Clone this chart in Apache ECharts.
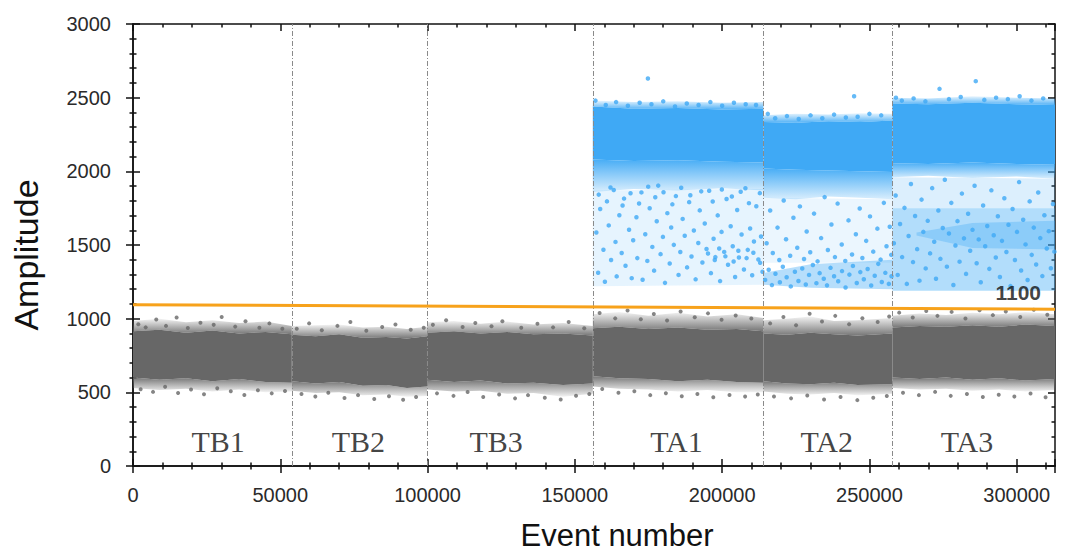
<!DOCTYPE html>
<html>
<head>
<meta charset="utf-8">
<title>Amplitude vs Event number</title>
<script src="https://cdn.jsdelivr.net/npm/echarts@6/dist/echarts.min.js"></script>
<style>
  html, body { margin: 0; padding: 0; background: #fff; }
  #chart { width: 1072px; height: 557px; }
</style>
</head>
<body>
<div id="chart"></div>
<script>
// segment borders (event number) and segment names
const segEdges = [53900, 99800, 156100, 214000, 257800];
const segNames = ['TB1', 'TB2', 'TB3', 'TA1', 'TA2', 'TA3'];
const segLabelX = [28900, 76500, 123300, 184500, 235500, 283100];
const segLabelY = 165;

// threshold line
const thresholdX = [0, 313000];
const thresholdY = [1095, 1064];

// grey cloud (negative droplets): solid core and outer edge of the scatter
const greyX = [
  0, 9000, 18000, 27000, 36000, 45000, 53900,
  53900, 62000, 70000, 78000, 86000, 93000, 99800,
  99800, 109000, 118000, 127000, 136000, 146000, 156100,
  156100, 165000, 175000, 185000, 195000, 205000, 214000,
  214000, 222000, 230000, 238000, 246000, 257800,
  257800, 267000, 276000, 285000, 294000, 303000, 313000
];
const greyHi = [
  915, 925, 905, 920, 900, 910, 895,
  890, 880, 895, 870, 875, 865, 880,
  905, 915, 900, 910, 895, 900, 885,
  935, 945, 930, 940, 925, 930, 915,
  900, 890, 905, 895, 885, 900,
  940, 950, 945, 955, 945, 960, 950
];
const greyLo = [
  600, 585, 595, 575, 590, 570, 565,
  575, 560, 570, 545, 550, 530, 540,
  585, 570, 580, 560, 565, 550, 560,
  610, 595, 590, 575, 585, 570, 565,
  575, 560, 555, 565, 550, 555,
  600, 590, 600, 585, 595, 580, 590
];
const greyOuterHi = [
  985, 1000, 975, 990, 970, 980, 950,
  950, 955, 960, 940, 945, 930, 945,
  975, 985, 965, 980, 960, 970, 950,
  1030, 1045, 1020, 1040, 1015, 1030, 1005,
  990, 1000, 1015, 985, 990, 1005,
  1020, 1035, 1025, 1040, 1030, 1045, 1030
];
const greyOuterLo = [
  530, 515, 525, 505, 520, 500, 505,
  510, 495, 500, 480, 485, 470, 475,
  520, 505, 510, 490, 495, 470, 490,
  540, 525, 520, 505, 515, 500, 500,
  505, 490, 485, 495, 480, 490,
  530, 520, 525, 510, 520, 505, 515
];

// isolated grey droplets outside the core
const greyPts = [
  [1800,962],[4300,941],[7900,994],[11200,951],[14800,1008],[18600,937],[22900,972],[27400,958],[30100,1011],[34700,946],[38200,983],[42900,939],[46300,968],[50700,932],
  [55600,931],[59800,968],[64100,922],[69400,951],[73800,978],[79200,918],[84600,944],[89100,961],[94300,925],[98700,939],
  [101800,958],[106300,989],[111900,944],[116200,971],[121700,949],[125400,982],[131800,938],[137300,966],[142600,941],[147900,977],[153200,935],
  [158400,1038],[163700,1002],[167900,1055],[172400,996],[176800,1031],[181300,987],[185900,1048],[190700,1009],[195200,1036],[199800,993],[204600,1022],[209900,1001],
  [216300,968],[220800,1012],[225100,956],[229700,1034],[233900,981],[238400,1019],[243100,962],[247600,1003],[252800,977],[256700,1015],
  [260100,1041],[264700,1008],[269300,1052],[273100,1019],[277900,1046],[282600,1001],[287400,1057],[291900,1024],[296300,1049],[301200,1012],[305800,1061],[310400,1027],
  [2600,521],[6800,503],[10900,538],[15300,496],[19700,519],[24100,487],[28600,527],[33200,508],[37800,482],[42400,514],[47100,493],[51600,509],
  [57200,488],[61900,471],[66300,497],[71800,462],[76400,481],[81900,455],[86900,474],[91700,449],[96100,468],
  [103200,493],[108800,476],[113600,502],[118900,468],[124300,486],[129700,459],[134100,481],[139800,463],[145200,452],[150400,477],[154900,488],
  [159300,522],[164800,497],[170200,508],[175600,481],[180900,494],[186300,473],[191600,489],[197000,466],[202500,482],[207800,471],[212100,485],
  [217600,472],[223400,459],[228900,478],[234600,452],[240200,468],[245900,447],[251300,463],[255900,475],
  [261400,497],[266800,481],[272300,503],[277600,476],[283100,489],[288500,468],[293900,484],[299200,471],[304700,492],[309800,466]
];

// blue cloud (positive droplets): solid core, upper edge and speckled lower edge
const blueX = [
  156100, 170000, 185000, 200000, 214000,
  214000, 225000, 236000, 247000, 257800,
  257800, 270000, 285000, 300000, 313000
];
const blueHi = [2440, 2425, 2430, 2420, 2425, 2335, 2330, 2340, 2335, 2345, 2460, 2455, 2465, 2455, 2450];
const blueLo = [2080, 2070, 2075, 2065, 2060, 2020, 2010, 2005, 2000, 1995, 2055, 2050, 2060, 2050, 2045];
const blueOuterHi = [2480, 2470, 2475, 2465, 2470, 2380, 2390, 2385, 2395, 2390, 2500, 2495, 2510, 2500, 2495];
const blueSpeckLo = [1860, 1880, 1870, 1885, 1870, 1820, 1810, 1830, 1820, 1810, 1960, 1970, 1955, 1965, 1950];

// thinner blue regions below the core
const ta1X = [156100, 214000];
const ta1Lo = [1220, 1230];
const ta1Hi = [1870, 1880];
const ta2X = [214000, 257800];
const ta2Lo = [1380, 1380];
const ta2Hi = [1820, 1810];
const ta2ClusterX = [214000, 230000, 257800];
const ta2ClusterLo = [1230, 1210, 1200];
const ta2ClusterHi = [1310, 1370, 1400];
const ta3X = [257800, 313000];
const ta3UpperLo = [1750, 1750];
const ta3UpperHi = [1960, 1950];
const ta3Lo = [1190, 1190];
const ta3Hi = [1750, 1750];
const ta3BandX = [266000, 285000, 313000];
const ta3BandLo = [1565, 1480, 1470];
const ta3BandHi = [1585, 1650, 1665];

// isolated blue droplets
const bluePts = [
  // TA1
  [157300,1585],[157900,1312],[158600,1744],[159700,1468],[160200,1251],[161500,1633],[162100,1890],[162300,1398],[163800,1521],[164200,1287],
  [165100,1702],[165900,1446],[166700,1815],[167200,1359],[168400,1604],[169300,1275],[169800,1532],[170900,1688],[171200,1411],[172600,1857],
  [173000,1264],[173900,1573],[174600,1392],[175400,1749],[176300,1487],[176900,1326],[177800,1661],[178300,1903],[179100,1438],[179900,1555],
  [180600,1243],[181400,1716],[182200,1374],[182700,1619],[183600,1501],[184300,1832],[185200,1297],[185800,1452],[186600,1677],[187300,1563],
  [188100,1348],[188800,1791],[189600,1422],[190400,1598],[191000,1267],[191900,1514],[192400,1735],[193300,1381],[194100,1646],[194700,1473],
  [195600,1868],[196200,1309],[197100,1542],[197700,1418],[198500,1701],[199300,1255],[199800,1589],[200700,1453],[201500,1812],[202000,1366],
  [202900,1627],[203600,1492],[204400,1283],[205100,1738],[205700,1415],[206600,1571],[207400,1334],[207900,1885],[208700,1467],[209500,1612],
  [210200,1295],[210800,1524],[211600,1763],[212300,1402],[213200,1558],[213700,1318],
  [158100,1842],[160900,1796],[163200,1873],[166200,1768],[168900,1851],[171800,1782],[174900,1896],[177300,1824],[180100,1858],[183100,1776],
  [186100,1889],[189200,1838],[192900,1864],[196800,1795],[199900,1877],[203300,1829],[206300,1861],[209100,1784],[212800,1852],
  [195200,1442],[197500,1398],[199000,1476],[201100,1423],[203900,1388],[205500,1461],[208300,1411],[210600,1447],[212900,1379],
  // TA2
  [215100,1512],[216300,1734],[217200,1446],[218800,1618],[219400,1398],[220900,1802],[221700,1539],[223100,1427],[224200,1685],[225500,1481],
  [226400,1762],[227800,1405],[228700,1592],[229900,1451],[231200,1713],[232400,1389],[233600,1547],[234800,1825],[235900,1466],[237100,1639],
  [238300,1418],[239200,1781],[240600,1503],[241800,1392],[242900,1667],[244100,1436],[245400,1573],[246700,1748],[247600,1412],[248900,1528],
  [250200,1694],[251300,1455],[252700,1611],[253800,1401],[254900,1786],[255800,1492],[256900,1624],[257400,1433],
  [214600,1263],[215800,1332],[216900,1228],[218100,1305],[219600,1247],[220600,1352],[221900,1281],[223300,1219],[224700,1318],[225900,1256],
  [227200,1340],[228400,1232],[229500,1297],[230800,1364],[232000,1241],[233100,1309],[234500,1271],[235600,1226],[236800,1345],[238000,1288],
  [239400,1254],[240700,1323],[241900,1212],[243200,1299],[244400,1358],[245700,1242],[246900,1316],[248100,1268],[249400,1337],[250600,1225],
  [251800,1291],[253000,1372],[254200,1249],[255400,1311],[256600,1236],[257500,1288],
  // TA3
  [258300,1512],[258900,1836],[259600,1297],[260400,1643],[261100,1418],[261900,1752],[262700,1236],[263300,1561],[264100,1914],[264800,1384],
  [265500,1697],[266200,1472],[267000,1258],[267700,1808],[268300,1589],[269100,1341],[269800,1664],[270600,1443],[271300,1886],[272000,1522],
  [272600,1271],[273400,1734],[274100,1406],[274900,1615],[275600,1943],[276300,1353],[277000,1578],[277800,1786],[278500,1229],[279200,1497],
  [279900,1662],[280600,1387],[281400,1849],[282100,1545],[282800,1304],[283500,1712],[284200,1461],[285000,1603],[285700,1902],[286400,1376],
  [287100,1538],[287800,1247],[288600,1768],[289300,1492],[290000,1629],[290700,1338],[291400,1871],[292200,1566],[292900,1415],[293600,1695],
  [294300,1283],[295000,1528],[295800,1817],[296500,1452],[297200,1637],[297900,1221],[298600,1744],[299400,1398],[300100,1589],[300800,1927],
  [301500,1327],[302200,1671],[303000,1504],[303700,1262],[304400,1796],[305100,1433],[305800,1618],[306600,1368],[307300,1856],[308000,1547],
  [308700,1289],[309400,1702],[310200,1476],[310900,1594],[311600,1342],[312300,1778],[312800,1455],
  // above the core
  [157000,2480],[160500,2450],[164000,2470],[168000,2445],[172000,2465],[174800,2630],[176000,2455],[180000,2475],[184000,2440],[188000,2460],
  [192000,2450],[196000,2470],[200000,2445],[204000,2465],[208000,2455],[211500,2450],
  [215500,2390],[218000,2360],[222000,2375],[226000,2355],[230000,2380],[234000,2360],[238000,2385],[242000,2365],[244800,2510],[246000,2370],
  [250000,2390],[254000,2380],
  [259000,2500],[261000,2480],[265000,2495],[269000,2475],[273800,2560],[277000,2490],[281000,2505],[286100,2612],[289000,2485],[293000,2500],
  [297000,2490],[301000,2510],[305000,2480],[309000,2495]
];

const GREY = '#676767';
const BLUE = '#3fa9f5';
const X_MAX = 313000;

function fade(rgb, topAlpha, bottomAlpha) {
  return new echarts.graphic.LinearGradient(0, 0, 0, 1, [
    { offset: 0, color: 'rgba(' + rgb + ',' + topAlpha + ')' },
    { offset: 1, color: 'rgba(' + rgb + ',' + bottomAlpha + ')' }
  ]);
}

// filled region between lo and hi; a repeated x starts a new piece
function band(xs, lo, hi, fill, opacity) {
  return {
    type: 'custom',
    silent: true,
    z: 2,
    data: xs.map((x, i) => [x, lo[i], hi[i]]),
    encode: { x: 0, y: [1, 2] },
    renderItem: function (params, api) {
      if (params.dataIndex !== 0) return null;
      const children = [];
      let start = 0;
      for (let i = 1; i <= xs.length; i++) {
        if (i === xs.length || xs[i] === xs[i - 1]) {
          const top = [], bottom = [];
          for (let k = start; k < i; k++) {
            top.push(api.coord([xs[k], hi[k]]));
            bottom.unshift(api.coord([xs[k], lo[k]]));
          }
          children.push({
            type: 'polygon',
            shape: { points: top.concat(bottom) },
            style: { fill: fill, opacity: opacity }
          });
          start = i;
        }
      }
      return { type: 'group', children: children };
    }
  };
}

const chart = echarts.init(document.getElementById('chart'), null, { renderer: 'svg' });

const lineStyle = { color: '#111', width: 1.5 };
const tickLabelStyle = { fontFamily: 'Liberation Sans', fontSize: 20, color: '#2a2a2a' };

function xAxisOf(position, opts) {
  return Object.assign({
    type: 'value', position: position, min: 0, max: X_MAX, interval: 50000,
    axisLine: { show: true, onZero: false, lineStyle: lineStyle },
    axisTick: { show: true, inside: true, length: 7, lineStyle: lineStyle },
    minorTick: { show: true, splitNumber: 5, length: 3.5, lineStyle: lineStyle },
    axisLabel: { show: false },
    splitLine: { show: false }
  }, opts);
}

function yAxisOf(position, opts) {
  return Object.assign({
    type: 'value', position: position, min: 0, max: 3000, interval: 500,
    axisLine: { show: true, onZero: false, lineStyle: lineStyle },
    axisTick: { show: true, inside: true, length: 7, lineStyle: lineStyle },
    minorTick: { show: true, splitNumber: 5, length: 3.5, lineStyle: lineStyle },
    axisLabel: { show: false },
    splitLine: { show: false }
  }, opts);
}

const option = {
  animation: false,
  backgroundColor: '#fff',
  textStyle: { fontFamily: 'Liberation Sans' },
  grid: { left: 133, right: 17, top: 24, bottom: 91, outerBoundsMode: 'none', containLabel: false },
  xAxis: [
    xAxisOf('bottom', {
      axisTick: { show: true, inside: false, length: 7, lineStyle: lineStyle },
      axisLabel: Object.assign({
        show: true, margin: 19,
        formatter: v => (v % 50000 === 0 ? String(v) : '')
      }, tickLabelStyle),
      name: 'Event number',
      nameLocation: 'middle',
      nameGap: 54,
      nameTextStyle: { fontFamily: 'Liberation Sans', fontSize: 31, color: '#111', padding: [0, 0, 0, 46] }
    }),
    xAxisOf('bottom', {}),
    xAxisOf('top', {})
  ],
  yAxis: [
    yAxisOf('left', {
      axisTick: { show: true, inside: false, length: 7, lineStyle: lineStyle },
      axisLabel: Object.assign({ show: true, margin: 22, formatter: v => String(v) }, tickLabelStyle),
      name: 'Amplitude',
      nameLocation: 'middle',
      nameGap: 90,
      nameTextStyle: { fontFamily: 'Liberation Sans', fontSize: 34, color: '#111', padding: [0, 20, 0, 0] }
    }),
    yAxisOf('left', {}),
    yAxisOf('right', {})
  ],
  series: [
    {
      // segment separators
      type: 'line',
      data: [],
      z: 1,
      markLine: {
        silent: true,
        symbol: ['none', 'none'],
        label: { show: false },
        lineStyle: { color: '#8a8a8a', width: 1, type: [5, 2, 1, 2] },
        data: segEdges.map(x => ({ xAxis: x }))
      }
    },
    band(greyX, greyHi, greyOuterHi, fade('103,103,103', 0.08, 0.9), 1),
    band(greyX, greyOuterLo, greyLo, fade('103,103,103', 0.9, 0.08), 1),
    band(greyX, greyLo, greyHi, GREY, 1),
    {
      type: 'scatter', silent: true, z: 3,
      symbolSize: 4,
      itemStyle: { color: GREY },
      data: greyPts
    },
    band(ta1X, ta1Lo, ta1Hi, BLUE, 0.13),
    band(ta2X, ta2Lo, ta2Hi, BLUE, 0.1),
    band(ta2ClusterX, ta2ClusterLo, ta2ClusterHi, BLUE, 0.38),
    band(ta3X, ta3UpperLo, ta3UpperHi, BLUE, 0.18),
    band(ta3X, ta3Lo, ta3Hi, BLUE, 0.4),
    band(ta3BandX, ta3BandLo, ta3BandHi, BLUE, 0.32),
    band(blueX, blueSpeckLo, blueLo, fade('63,169,245', 0.95, 0.2), 1),
    band(blueX, blueHi, blueOuterHi, fade('63,169,245', 0.12, 0.9), 1),
    band(blueX, blueLo, blueHi, BLUE, 1),
    {
      type: 'scatter', silent: true, z: 3,
      symbolSize: 4.5,
      itemStyle: { color: BLUE },
      data: bluePts
    },
    {
      // threshold
      type: 'line', silent: true, z: 5,
      symbol: 'none',
      lineStyle: { color: '#f7a21b', width: 3 },
      data: thresholdX.map((x, i) => [x, thresholdY[i]])
    },
    {
      type: 'scatter', silent: true, z: 6,
      symbolSize: 0,
      data: [[thresholdX[1], thresholdY[1]]],
      label: {
        show: true, position: 'top', align: 'right', offset: [-14, -1],
        formatter: '1100',
        fontFamily: 'Liberation Sans', fontWeight: 'bold', fontSize: 21, color: '#111'
      }
    },
    {
      // segment names
      type: 'scatter', silent: true, z: 6,
      symbolSize: 0,
      data: segNames.map((n, i) => ({ name: n, value: [segLabelX[i], segLabelY] })),
      label: {
        show: true, position: 'inside',
        formatter: p => p.name,
        fontFamily: 'Liberation Serif', fontSize: 30, color: '#111'
      }
    }
  ]
};

chart.setOption(option);
</script>
</body>
</html>
